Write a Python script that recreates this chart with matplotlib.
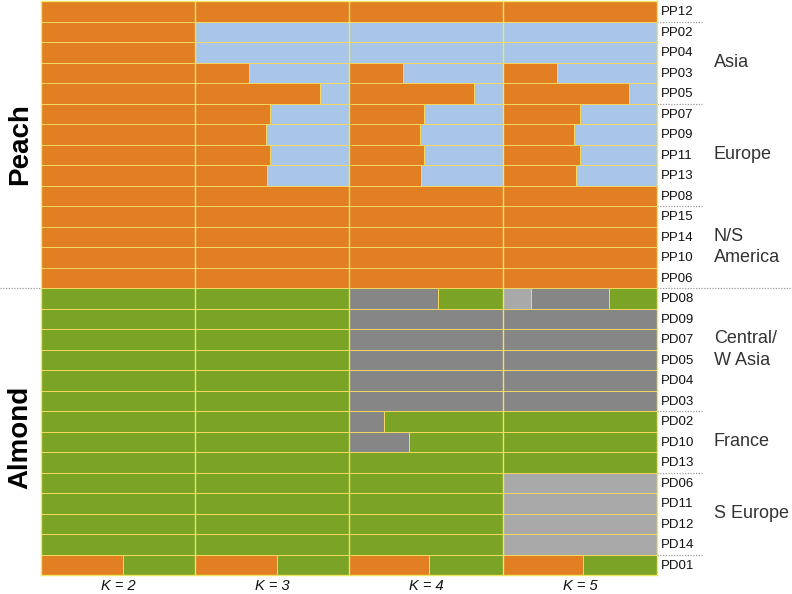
import matplotlib
matplotlib.use("Agg")
import matplotlib.pyplot as plt

plt.rcParams['font.family'] = ['Liberation Sans', 'DejaVu Sans']

samples = ["PP12", "PP02", "PP04", "PP03", "PP05", "PP07", "PP09", "PP11", "PP13",
           "PP08", "PP15", "PP14", "PP10", "PP06",
           "PD08", "PD09", "PD07", "PD05", "PD04", "PD03", "PD02", "PD10", "PD13",
           "PD06", "PD11", "PD12", "PD14", "PD01"]

group_labels = ["Asia", "Europe", "N/S\nAmerica", "Central/\nW Asia", "France", "S Europe"]
group_centers = [2.5, 7.0, 11.5, 16.5, 21.0, 24.5]
group_breaks = [1, 5, 10, 20, 23, 27]
species_break = 14
species = ["Peach", "Almond"]
k_labels = ["K = 2", "K = 3", "K = 4", "K = 5"]

# ancestry fractions (rows in sample order)
K2_orange = [1, 1, 1, 1, 1, 1, 1, 1, 1, 1, 1, 1, 1, 1,
             0, 0, 0, 0, 0, 0, 0, 0, 0, 0, 0, 0, 0, 0.53]
K2_blue = [0] * 28
K2_lgray = [0] * 28
K2_dgray = [0] * 28
K2_green = [0, 0, 0, 0, 0, 0, 0, 0, 0, 0, 0, 0, 0, 0,
            1, 1, 1, 1, 1, 1, 1, 1, 1, 1, 1, 1, 1, 0.47]

K3_orange = [1, 0, 0, 0.35, 0.81, 0.49, 0.46, 0.49, 0.47, 1, 1, 1, 1, 1,
             0, 0, 0, 0, 0, 0, 0, 0, 0, 0, 0, 0, 0, 0.53]
K3_blue = [0, 1, 1, 0.65, 0.19, 0.51, 0.54, 0.51, 0.53, 0, 0, 0, 0, 0,
           0, 0, 0, 0, 0, 0, 0, 0, 0, 0, 0, 0, 0, 0]
K3_lgray = [0] * 28
K3_dgray = [0] * 28
K3_green = [0, 0, 0, 0, 0, 0, 0, 0, 0, 0, 0, 0, 0, 0,
            1, 1, 1, 1, 1, 1, 1, 1, 1, 1, 1, 1, 1, 0.47]

K4_orange = [1, 0, 0, 0.35, 0.81, 0.49, 0.46, 0.49, 0.47, 1, 1, 1, 1, 1,
             0, 0, 0, 0, 0, 0, 0, 0, 0, 0, 0, 0, 0, 0.52]
K4_blue = [0, 1, 1, 0.65, 0.19, 0.51, 0.54, 0.51, 0.53, 0, 0, 0, 0, 0,
           0, 0, 0, 0, 0, 0, 0, 0, 0, 0, 0, 0, 0, 0]
K4_lgray = [0] * 28
K4_dgray = [0, 0, 0, 0, 0, 0, 0, 0, 0, 0, 0, 0, 0, 0,
            0.58, 1, 1, 1, 1, 1, 0.23, 0.39, 0, 0, 0, 0, 0, 0]
K4_green = [0, 0, 0, 0, 0, 0, 0, 0, 0, 0, 0, 0, 0, 0,
            0.42, 0, 0, 0, 0, 0, 0.77, 0.61, 1, 1, 1, 1, 1, 0.48]

K5_orange = [1, 0, 0, 0.35, 0.82, 0.50, 0.46, 0.50, 0.475, 1, 1, 1, 1, 1,
             0, 0, 0, 0, 0, 0, 0, 0, 0, 0, 0, 0, 0, 0.52]
K5_blue = [0, 1, 1, 0.65, 0.18, 0.50, 0.54, 0.50, 0.525, 0, 0, 0, 0, 0,
           0, 0, 0, 0, 0, 0, 0, 0, 0, 0, 0, 0, 0, 0]
K5_lgray = [0, 0, 0, 0, 0, 0, 0, 0, 0, 0, 0, 0, 0, 0,
            0.18, 0, 0, 0, 0, 0, 0, 0, 0, 1, 1, 1, 1, 0]
K5_dgray = [0, 0, 0, 0, 0, 0, 0, 0, 0, 0, 0, 0, 0, 0,
            0.51, 1, 1, 1, 1, 1, 0, 0, 0, 0, 0, 0, 0, 0]
K5_green = [0, 0, 0, 0, 0, 0, 0, 0, 0, 0, 0, 0, 0, 0,
            0.31, 0, 0, 0, 0, 0, 1, 1, 1, 0, 0, 0, 0, 0.48]

panels = [
    [K2_orange, K2_blue, K2_lgray, K2_dgray, K2_green],
    [K3_orange, K3_blue, K3_lgray, K3_dgray, K3_green],
    [K4_orange, K4_blue, K4_lgray, K4_dgray, K4_green],
    [K5_orange, K5_blue, K5_lgray, K5_dgray, K5_green],
]
colors = ["#E17F22", "#A9C5E7", "#A9A9A9", "#868686", "#7BA326"]
edge = "#F4D860"

W, H = 792, 594
fig = plt.figure(figsize=(W / 100, H / 100), dpi=100)
ax = fig.add_axes([41 / W, 19 / H, 616 / W, 574 / H])

n = len(samples)
ys = list(range(n))
for k, comps in enumerate(panels):
    left = [k] * n
    for vals, c in zip(comps, colors):
        ax.barh(ys, vals, left=left, height=1.0, color=c,
                edgecolor=edge, linewidth=0.7)
        left = [l + v for l, v in zip(left, vals)]

for k in range(1, 4):
    ax.axvline(k, color="#F0E65E", lw=1.0)

ax.set_xlim(0, 4)
ax.set_ylim(n - 0.5, -0.5)
ax.set_xticks([])
ax.set_yticks([])
for s in ax.spines.values():
    s.set_color("#F0E65E")
    s.set_linewidth(1.0)

ytr = ax.get_yaxis_transform()
for i, name in enumerate(samples):
    ax.text(1.006, i + 0.05, name, transform=ytr, ha="left", va="center",
            fontsize=9.5, color="#111111")

for lab, c in zip(group_labels, group_centers):
    ax.text(1.092, c, lab, transform=ytr, ha="left", va="center",
            fontsize=13, color="#333333", linespacing=1.35)

for b in group_breaks:
    ax.plot([1.0, 1.073], [b - 0.5, b - 0.5], transform=ytr, clip_on=False,
            color="#9A9A9A", lw=0.9, ls=(0, (1, 1.2)))
ax.plot([-41 / 616, 0], [species_break - 0.5] * 2, transform=ytr, clip_on=False,
        color="#9A9A9A", lw=0.9, ls=(0, (1, 1.2)))
ax.plot([1.0, 751 / 616], [species_break - 0.5] * 2, transform=ytr, clip_on=False,
        color="#9A9A9A", lw=0.9, ls=(0, (1, 1.2)))

xtr = ax.get_xaxis_transform()
for k, lab in enumerate(k_labels):
    ax.text(k + 0.5, -0.019, lab, transform=xtr, ha="center", va="center",
            fontsize=10.5, style="italic", color="#111111")

ax.text(-21 / 616, 6.5, species[0], transform=ytr, rotation=90, ha="center",
        va="center", fontsize=20, fontweight="bold", color="black")
ax.text(-21 / 616, 20.8, species[1], transform=ytr, rotation=90, ha="center",
        va="center", fontsize=20, fontweight="bold", color="black")

fig.savefig("out.png", dpi=100)
